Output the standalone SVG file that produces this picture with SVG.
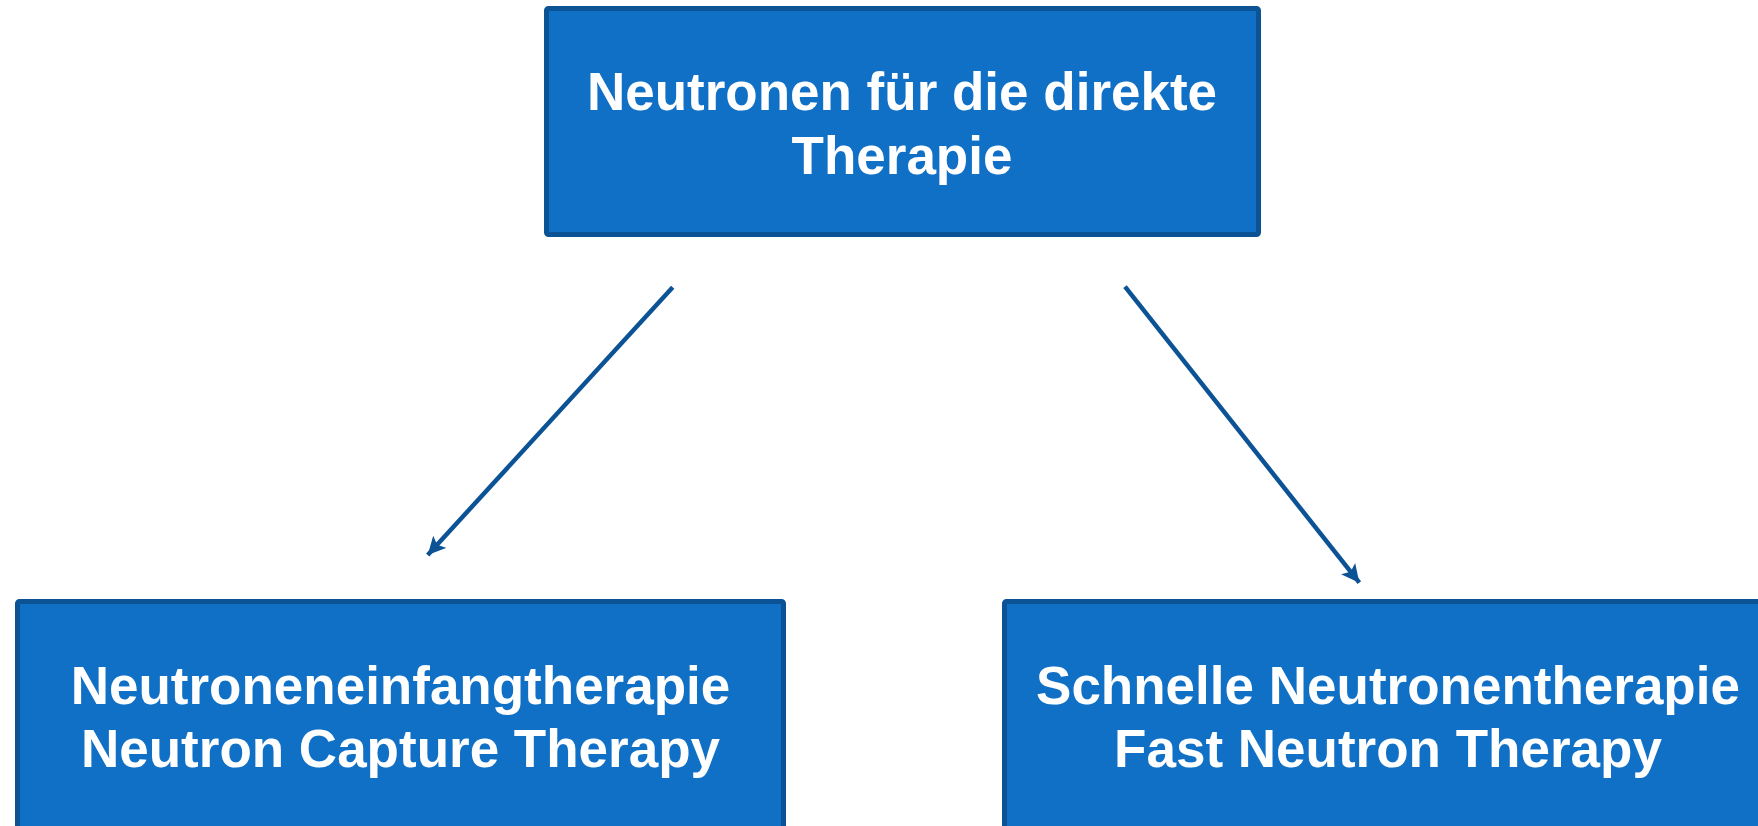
<svg xmlns="http://www.w3.org/2000/svg" width="1758" height="826" viewBox="0 0 1758 826">
<style>
.box{fill:#1070c6;stroke:#0c5396;stroke-width:5}
.t{font-family:"Liberation Sans",Arial,sans-serif;font-weight:bold;font-size:53px;fill:#ffffff;text-anchor:middle}
.c{stroke:#0c5396;stroke-width:4.5;fill:none;marker-end:url(#ah)}
</style>
<defs>
<marker id="ah" markerUnits="userSpaceOnUse" markerWidth="22" markerHeight="22" refX="18" refY="9" orient="auto">
<path d="M0,0 L18,9 L0,18 L4,9 Z" fill="#0c5396"/>
</marker>
</defs>
<rect width="1758" height="826" fill="#ffffff"/>
<g id="connectors">
<line class="c" x1="672.7" y1="287.3" x2="427.7" y2="555"/>
<line class="c" x1="1125" y1="286.7" x2="1359.3" y2="582.7"/>
</g>
<g id="top">
<rect class="box" x="546.5" y="8.5" width="712" height="226" rx="2"/>
<text class="t" x="902" y="110">Neutronen für die direkte</text>
<text class="t" x="902" y="174">Therapie</text>
</g>
<g id="left">
<rect class="box" x="17.5" y="601.5" width="766" height="260" rx="2"/>
<text class="t" x="400.5" y="704">Neutroneneinfangtherapie</text>
<text class="t" x="400.5" y="767">Neutron Capture Therapy</text>
</g>
<g id="right">
<rect class="box" x="1004.5" y="601.5" width="766" height="260" rx="2"/>
<text class="t" x="1388" y="704">Schnelle Neutronentherapie</text>
<text class="t" x="1388" y="767">Fast Neutron Therapy</text>
</g>
</svg>
